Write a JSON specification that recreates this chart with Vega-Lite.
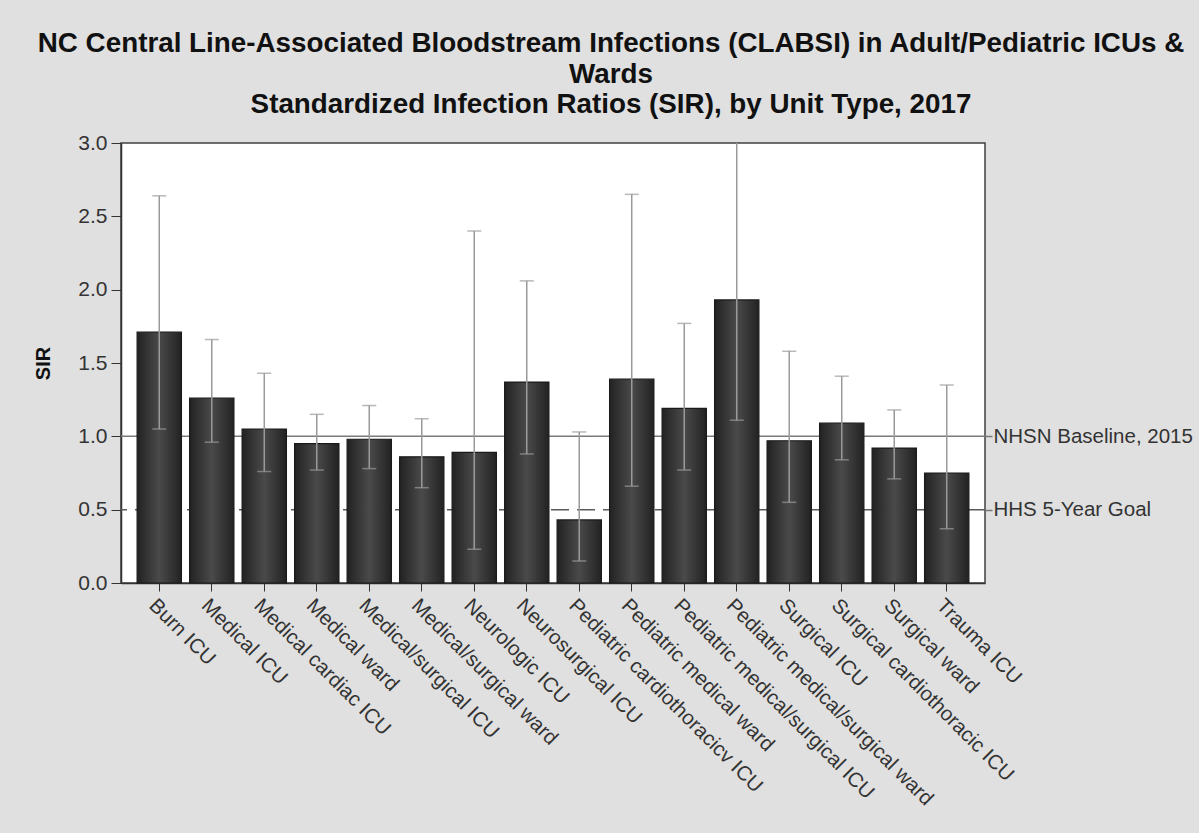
{
  "$schema": "https://vega.github.io/schema/vega-lite/v6.json",
  "width": 864,
  "height": 440,
  "autosize": {"type": "none"},
  "padding": {"left": 121, "top": 143, "right": 214, "bottom": 250},
  "background": "#e0e0e0",
  "title": {
    "text": ["NC Central Line-Associated Bloodstream Infections (CLABSI) in Adult/Pediatric ICUs &", "Wards", "Standardized Infection Ratios (SIR), by Unit Type, 2017"],
    "font": "Liberation Sans",
    "fontSize": 27.8,
    "fontWeight": "bold",
    "color": "#111111",
    "lineHeight": 30.5,
    "anchor": "middle",
    "dx": 58,
    "offset": 13
  },
  "config": {
    "view": {"fill": "white", "stroke": "#404040", "strokeWidth": 1.5},
    "axis": {
      "labelFont": "Liberation Sans",
      "titleFont": "Liberation Sans",
      "labelColor": "#333333",
      "labelFontSize": 21,
      "tickColor": "#333333",
      "domainColor": "#333333",
      "grid": false
    }
  },
  "datasets": {
    "sir": [
      {"unit": "Burn ICU", "sir": 1.71, "lower": 1.05, "upper": 2.64},
      {"unit": "Medical ICU", "sir": 1.26, "lower": 0.96, "upper": 1.66},
      {"unit": "Medical cardiac ICU", "sir": 1.05, "lower": 0.76, "upper": 1.43},
      {"unit": "Medical ward", "sir": 0.95, "lower": 0.77, "upper": 1.15},
      {"unit": "Medical/surgical ICU", "sir": 0.98, "lower": 0.78, "upper": 1.21},
      {"unit": "Medical/surgical ward", "sir": 0.86, "lower": 0.65, "upper": 1.12},
      {"unit": "Neurologic ICU", "sir": 0.89, "lower": 0.23, "upper": 2.40},
      {"unit": "Neurosurgical ICU", "sir": 1.37, "lower": 0.88, "upper": 2.06},
      {"unit": "Pediatric cardiothoracicv ICU", "sir": 0.43, "lower": 0.15, "upper": 1.03},
      {"unit": "Pediatric medical ward", "sir": 1.39, "lower": 0.66, "upper": 2.65},
      {"unit": "Pediatric medical/surgical ICU", "sir": 1.19, "lower": 0.77, "upper": 1.77},
      {"unit": "Pediatric medical/surgical ward", "sir": 1.93, "lower": 1.11, "upper": 3.4},
      {"unit": "Surgical ICU", "sir": 0.97, "lower": 0.55, "upper": 1.58},
      {"unit": "Surgical cardiothoracic ICU", "sir": 1.09, "lower": 0.84, "upper": 1.41},
      {"unit": "Surgical ward", "sir": 0.92, "lower": 0.71, "upper": 1.18},
      {"unit": "Trauma ICU", "sir": 0.75, "lower": 0.37, "upper": 1.35}
    ],
    "refs": [
      {"ref": 1.0, "label": "NHSN Baseline, 2015", "kind": "solid"},
      {"ref": 0.5, "label": "HHS 5-Year Goal", "kind": "dashed"}
    ]
  },
  "resolve": {"axis": {"y": "independent"}},
  "layer": [
    {
      "data": {"name": "refs"},
      "mark": {"type": "rule", "strokeWidth": 1.5},
      "encoding": {
        "y": {
          "field": "ref", "type": "quantitative",
          "scale": {"domain": [0, 3], "nice": false},
          "axis": {
            "orient": "right", "title": null, "values": [0.5, 1],
            "labelExpr": "datum.value == 1 ? 'NHSN Baseline, 2015' : 'HHS 5-Year Goal'",
            "domain": false, "tickSize": 7, "tickColor": "#777777", "tickWidth": 1.5,
            "labelPadding": 1, "labelFontSize": 20.5, "labelColor": "#333333", "labelLimit": 400
          }
        },
        "color": {
          "field": "kind", "type": "nominal",
          "scale": {"domain": ["solid", "dashed"], "range": ["#7a7a7a", "#5a5a5a"]},
          "legend": null
        },
        "strokeDash": {
          "field": "kind", "type": "nominal",
          "scale": {"domain": ["solid", "dashed"], "range": [[1, 0], [18, 8]]},
          "legend": null
        }
      }
    },
    {
      "data": {"name": "sir"},
      "mark": {
        "type": "bar",
        "color": {
          "gradient": "linear", "x1": 0, "x2": 1, "y1": 0, "y2": 0,
          "stops": [
            {"offset": 0, "color": "#222222"},
            {"offset": 0.5, "color": "#4a4a4a"},
            {"offset": 1, "color": "#222222"}
          ]
        },
        "stroke": "#1a1a1a",
        "strokeWidth": 1.2
      },
      "encoding": {
        "x": {
          "field": "unit", "type": "nominal", "sort": null,
          "scale": {"paddingInner": 0.156, "paddingOuter": 0.307},
          "axis": {
            "title": null, "labelAngle": 45, "labelAlign": "left", "labelBaseline": "top",
            "labelFontSize": 20.5, "tickSize": 8, "labelPadding": 4, "domainWidth": 1.5, "labelLimit": 500
          }
        },
        "y": {
          "field": "sir", "type": "quantitative",
          "scale": {"domain": [0, 3], "nice": false},
          "axis": {
            "orient": "left", "title": "SIR", "titleFontSize": 20, "titleFontWeight": "bold",
            "titleColor": "#111111", "titlePadding": 24,
            "values": [0, 0.5, 1, 1.5, 2, 2.5, 3], "format": ".1f",
            "tickSize": 10, "labelPadding": 4, "domainWidth": 1.5
          }
        }
      }
    },
    {
      "data": {"name": "sir"},
      "mark": {"type": "rule", "color": "#9a9a9a", "strokeWidth": 1.5, "clip": true},
      "encoding": {
        "x": {"field": "unit", "type": "nominal", "sort": null},
        "y": {"field": "lower", "type": "quantitative", "axis": null},
        "y2": {"field": "upper"}
      }
    },
    {
      "data": {"name": "sir"},
      "mark": {"type": "tick", "color": "#9a9a9a", "size": 14, "thickness": 1.5, "clip": true},
      "encoding": {
        "x": {"field": "unit", "type": "nominal", "sort": null},
        "y": {"field": "lower", "type": "quantitative", "axis": null}
      }
    },
    {
      "data": {"name": "sir"},
      "mark": {"type": "tick", "color": "#9a9a9a", "size": 14, "thickness": 1.5, "clip": true},
      "encoding": {
        "x": {"field": "unit", "type": "nominal", "sort": null},
        "y": {"field": "upper", "type": "quantitative", "axis": null}
      }
    }
  ]
}
